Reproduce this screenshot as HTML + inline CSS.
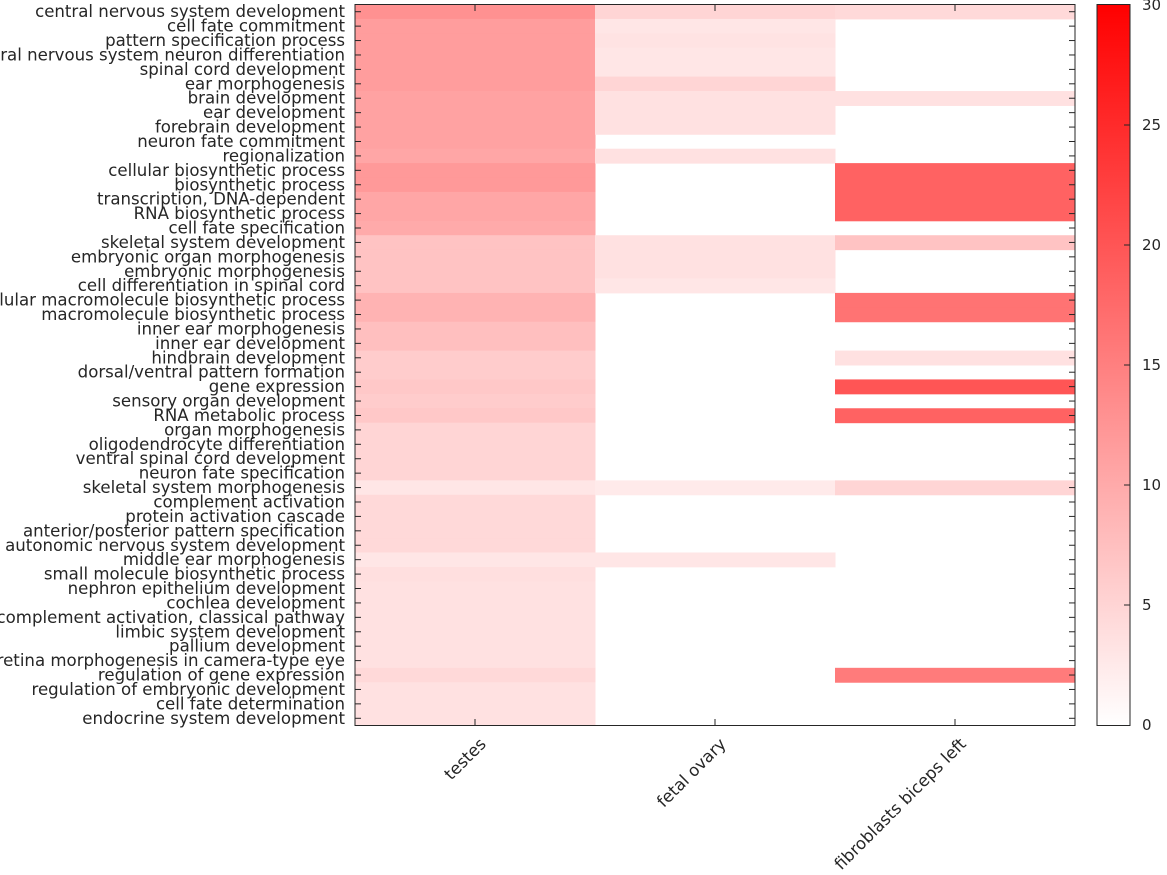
<!DOCTYPE html>
<html><head><meta charset="utf-8"><style>
html,body{margin:0;padding:0;background:#fff;width:1167px;height:875px;overflow:hidden}
svg text{font-family:"DejaVu Sans","Liberation Sans",sans-serif;font-size:15px;fill:#262626}
svg text.big{font-size:16.6px}
</style></head><body>
<svg width="1167" height="875" xmlns="http://www.w3.org/2000/svg">
<defs><linearGradient id="cb" x1="0" y1="1" x2="0" y2="0"><stop offset="0" stop-color="#fff"/><stop offset="1" stop-color="#f00"/></linearGradient></defs>
<g id="cells"></g>
<g id="labels"></g>
<rect x="355" y="4.5" width="720" height="721" fill="none" stroke="#262626" stroke-width="1"/>
<g id="ticks" stroke="#262626" stroke-width="1"></g>
<g>
<text class="big" transform="translate(487,745) rotate(-45)" text-anchor="end">testes</text>
<text class="big" transform="translate(727,745) rotate(-45)" text-anchor="end">fetal ovary</text>
<text class="big" transform="translate(967,745) rotate(-45)" text-anchor="end">fibroblasts biceps left</text>
</g>
<rect x="1097" y="4.5" width="33" height="721" fill="url(#cb)" stroke="#262626" stroke-width="1"/>
<g stroke="#262626">
<line x1="1124" y1="605" x2="1130" y2="605"/><line x1="1124" y1="485" x2="1130" y2="485"/><line x1="1124" y1="365" x2="1130" y2="365"/><line x1="1124" y1="245" x2="1130" y2="245"/><line x1="1124" y1="125" x2="1130" y2="125"/>
</g>
<g>
<text x="1142" y="730">0</text><text x="1142" y="610">5</text><text x="1142" y="490">10</text><text x="1142" y="370">15</text><text x="1142" y="250">20</text><text x="1142" y="130">25</text><text x="1142" y="10">30</text>
</g>
<script>
const names=["central nervous system development","cell fate commitment","pattern specification process","central nervous system neuron differentiation","spinal cord development","ear morphogenesis","brain development","ear development","forebrain development","neuron fate commitment","regionalization","cellular biosynthetic process","biosynthetic process","transcription, DNA-dependent","RNA biosynthetic process","cell fate specification","skeletal system development","embryonic organ morphogenesis","embryonic morphogenesis","cell differentiation in spinal cord","cellular macromolecule biosynthetic process","macromolecule biosynthetic process","inner ear morphogenesis","inner ear development","hindbrain development","dorsal/ventral pattern formation","gene expression","sensory organ development","RNA metabolic process","organ morphogenesis","oligodendrocyte differentiation","ventral spinal cord development","neuron fate specification","skeletal system morphogenesis","complement activation","protein activation cascade","anterior/posterior pattern specification","autonomic nervous system development","middle ear morphogenesis","small molecule biosynthetic process","nephron epithelium development","cochlea development","complement activation, classical pathway","limbic system development","pallium development","retina morphogenesis in camera-type eye","regulation of gene expression","regulation of embryonic development","cell fate determination","endocrine system development"];
const t=[13,11.5,11.5,11.5,11.5,11.5,11,11,11,11,10.5,12,12,10.5,10.5,10,7,7,7,7,9,9,7.5,7.5,6,6,6.5,6,6.5,5,5,5,5,3,4.5,4.5,4.5,4.5,3,3.8,3.5,3.5,3.5,3.5,3.5,3.5,4.5,3.5,3.5,3.5];
const f=[5,3,3.3,3,3,5,3.5,3.5,3.5,0,3.5,0,0,0,0,0,3.5,3.5,3.5,3,0,0,0,0,0,0,0,0,0,0,0,0,0,2.5,0,0,0,0,3,0,0,0,0,0,0,0,0,0,0,0];
const b=[4.5,0,0,0,0,0,3.5,0,0,0,0,18.5,18.5,18.5,18.5,0,7,0,0,0,16.5,16.5,0,0,3.5,0,20,0,18.5,0,0,0,0,5,0,0,0,0,0,0,0,0,0,0,0,0,15.5,0,0,0];
const NS="http://www.w3.org/2000/svg";
const h=721/50,top0=4.5;
const cells=document.getElementById('cells'),labels=document.getElementById('labels'),ticks=document.getElementById('ticks');
function col(v){const g=Math.round(255*(1-v/30));return `rgb(255,${g},${g})`;}
function el(n,a,p){const e=document.createElementNS(NS,n);for(const k in a)e.setAttribute(k,a[k]);p.appendChild(e);return e;}
[t,f,b].forEach((arr,c)=>{arr.forEach((v,i)=>{if(v>0)el('rect',{x:355+240*c,y:top0+i*h,width:240.5,height:h+0.5,fill:col(v)},cells);});});
names.forEach((n,i)=>{const y=top0+(i+0.5)*h;const tx=el('text',{x:345,y:y+5.5,'text-anchor':'end','class':'big'},labels);tx.textContent=n;
el('line',{x1:355,y1:y,x2:361,y2:y},ticks);el('line',{x1:1069,y1:y,x2:1075,y2:y},ticks);});
[475,715,955].forEach(x=>{el('line',{x1:x,y1:4.5,x2:x,y2:11},ticks);el('line',{x1:x,y1:719,x2:x,y2:725.5},ticks);});
</script>
</svg>
</body></html>
